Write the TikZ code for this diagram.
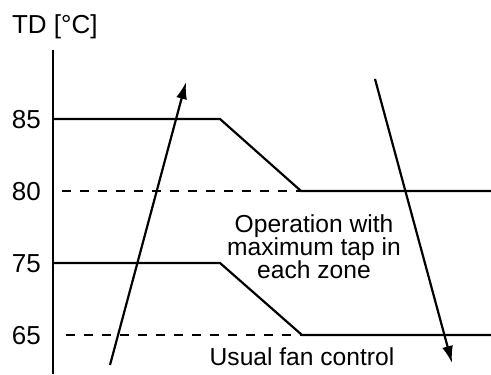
\documentclass[tikz,border=0pt]{standalone}
\usepackage{fontspec}
\setmainfont{Liberation Sans}
\usetikzlibrary{arrows.meta}

\begin{document}
\begin{tikzpicture}[x=0.5pt,y=-0.5pt,line width=1.1pt,
  every node/.style={font=\fontsize{12.3}{11.5}\selectfont,inner sep=0pt},
  tick/.style={anchor=base east,font=\fontsize{13}{14}\selectfont},
  dashline/.style={dash pattern=on 4.5pt off 4.5pt},
  flow/.style={-{Latex[length=8.5pt,width=5.5pt]}}]
\useasboundingbox (0,0) rectangle (491,374);
% axis
\coordinate (top) at (53,50);
\coordinate (bot) at (53,374);
\draw (top) -- (bot);
\node[anchor=base west,font=\fontsize{13}{14}\selectfont] (unit) at (11,34) {TD [°C]};
% temperature marks
\node[tick] (t85) at (42,128.5) {85};
\node[tick] (t80) at (42,200.5) {80};
\node[tick] (t75) at (42,272.5) {75};
\node[tick] (t65) at (42,344.5) {65};
% upper limit
\coordinate (a1) at (53,119);
\coordinate (a2) at (220,119);
\coordinate (a3) at (301,191);
\coordinate (a4) at (491,191);
\coordinate (a0) at (62,191);
\draw (a1) -- (a2) -- (a3) -- (a4);
\draw[dashline] (a0) -- (a3);
% lower limit
\coordinate (b1) at (53,263);
\coordinate (b2) at (220,263);
\coordinate (b3) at (302,335);
\coordinate (b4) at (491,335);
\coordinate (b0) at (66,335);
\draw (b1) -- (b2) -- (b3) -- (b4);
\draw[dashline] (b0) -- (b3);
% rising and falling
\coordinate (up0) at (110,365);
\coordinate (up1) at (186,82);
\coordinate (dn0) at (375,79);
\coordinate (dn1) at (452,363);
\draw[flow] (up0) -- (up1);
\draw[flow] (dn0) -- (dn1);
% zones
\node[align=center,anchor=base] (zone) at (314,278)
  {Operation with\\ maximum tap in\\ each zone};
\node[anchor=base] (usual) at (302,365) {Usual fan control};
\end{tikzpicture}
\end{document}
